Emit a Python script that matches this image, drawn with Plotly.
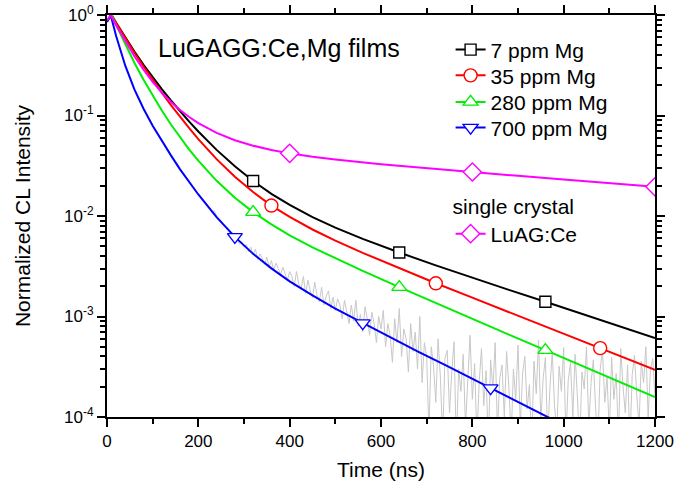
import plotly.graph_objects as go

# ---- cathodoluminescence decay data (time in ns, normalized intensity) ----
t_7 = [0, 10, 20, 40, 60, 80, 100, 120, 140, 160, 180, 200, 240, 280, 320, 360, 400, 450,
       500, 560, 640, 720, 800, 880, 960, 1040, 1120, 1200]
i_7 = [0.87, 1.0, 0.837, 0.596, 0.433, 0.320, 0.240, 0.183, 0.141, 0.110, 0.0869, 0.0693,
       0.0455, 0.0312, 0.0223, 0.0166, 0.0129, 0.00975, 0.00765, 0.00592, 0.00433, 0.00323,
       0.00242, 0.00184, 0.0014, 0.00106, 0.0008, 0.00061]

t_35 = [0, 10, 20, 40, 60, 80, 100, 120, 140, 160, 180, 200, 240, 280, 320, 360, 400, 450,
        500, 560, 640, 720, 800, 880, 960, 1040, 1080, 1120, 1200]
i_35 = [0.87, 1.0, 0.834, 0.588, 0.4215, 0.307, 0.226, 0.169, 0.127, 0.097, 0.0748, 0.0583,
        0.0368, 0.0246, 0.0173, 0.0127, 0.00978, 0.00734, 0.00568, 0.0043, 0.00302, 0.00214,
        0.00154, 0.00111, 0.000795, 0.00057, 0.000484, 0.00041, 0.000294]

t_280 = [0, 10, 20, 40, 60, 80, 100, 120, 140, 160, 180, 200, 240, 280, 320, 360, 400, 450,
         500, 560, 640, 720, 800, 880, 960, 1040, 1120, 1200]
i_280 = [0.87, 1.0, 0.792, 0.508, 0.335, 0.2267, 0.1574, 0.1119, 0.0814, 0.0604, 0.0458,
         0.0355, 0.0224, 0.0152, 0.01094, 0.00824, 0.00643, 0.00487, 0.00378, 0.00284,
         0.00196, 0.00136, 0.00095, 0.00066, 0.000463, 0.000324, 0.000226, 0.000158]

t_700 = [0, 8, 20, 40, 60, 80, 100, 120, 140, 160, 180, 200, 240, 280, 320, 360, 400, 450,
         500, 560, 620, 680, 740, 800, 840, 900, 960, 1000]
i_700 = [0.85, 1.0, 0.618, 0.313, 0.182, 0.1166, 0.0792, 0.0557, 0.0401, 0.0291, 0.0217,
         0.01637, 0.00974, 0.0062, 0.0042, 0.00301, 0.00224, 0.00162, 0.0012, 0.00086,
         0.00062, 0.00045, 0.00033, 0.00024, 0.000194, 0.000141, 0.000103, 0.000083]

t_luag = [0, 8, 20, 40, 60, 80, 100, 120, 140, 160, 180, 200, 240, 280, 320, 360, 400, 450,
          500, 600, 700, 800, 900, 1000, 1100, 1200]
i_luag = [0.88, 1.0, 0.790, 0.546, 0.388, 0.285, 0.216, 0.169, 0.1365, 0.1133, 0.0965, 0.084,
          0.0672, 0.0568, 0.0501, 0.0453, 0.042, 0.0389, 0.0365, 0.0328, 0.0299, 0.0274,
          0.0251, 0.0231, 0.0212, 0.0195]

# measured (unfitted) trace of the 700 ppm film, in units of 1e-4
t_raw = list(range(225, 1201, 5))
raw_e4 = [121, 108, 113, 99, 93, 90, 82, 77, 76, 66, 68, 60, 58, 53, 55, 49,
          52, 44, 49, 41, 47, 37, 42, 38, 33, 39, 31, 36, 29, 34, 30, 26, 31, 27, 23, 28,
          25, 20, 28, 21, 19, 25, 17, 23, 18, 15.5, 22, 16, 14, 19.5, 13, 16, 18, 12, 15.5, 11.5,
          15, 13, 9.5, 14.5, 11, 8.5, 13, 9, 14.5, 8, 10.5, 7, 12.5, 9.5, 6.5, 11, 8.5, 5.5, 10, 7.5,
          11.5, 5, 8.5, 6.5, 3.5, 9.5, 5.5, 12, 4, 7.5, 6, 2.8, 8.5, 4.5, 7, 3, 10, 2.2, 5.5, 4,
          0.7, 5, 3.2, 1.4, 6, 2.5, 0.6, 3.8, 4.6, 1.1, 2.8, 5.6, 0.5, 3, 1.8, 4.2, 0.8, 2.6, 6.5, 1.5,
          3.4, 0.6, 2.2, 4.8, 1.3, 2.9, 0.5, 3.7, 1.9, 5.5, 0.7, 2.4, 3.3, 1.0, 4.5, 2.0, 0.6, 3.0, 1.5, 5.2,
          0.8, 2.7, 4.0, 1.2, 2.1, 0.5, 3.6, 1.7, 5.8, 0.9, 2.4, 3.9, 0.6, 2.0, 4.4, 1.3, 0.7, 3.2, 1.8, 4.9,
          0.6, 2.3, 3.5, 1.0, 4.2, 1.6, 0.5, 2.8, 1.9, 5.0, 0.8, 2.2, 3.7, 1.2, 0.6, 3.0, 4.6, 1.4, 2.5, 0.7,
          3.9, 1.5, 2.7, 0.6, 4.8, 2.0, 1.1, 3.3, 0.5, 2.6, 4.1, 1.7, 0.8, 3.6, 2.2, 5.0, 1.0, 2.9, 3.8, 1.6]
raw = [v * 1e-4 for v in raw_e4]

# times at which symbols are placed on each curve
mark_7 = [320, 640, 960]
mark_35 = [360, 720, 1080]
mark_280 = [320, 640, 960]
mark_700 = [280, 560, 840]
mark_luag = [400, 800, 1200]

FONT = "Liberation Sans, Arial, sans-serif"

# name, data, symbol times, colour, symbol, size, legend id
series = [
    ("7 ppm Mg", t_7, i_7, mark_7, "#000000", "square", 11, "legend"),
    ("35 ppm Mg", t_35, i_35, mark_35, "#ff0000", "circle", 13, "legend2"),
    ("280 ppm Mg", t_280, i_280, mark_280, "#00ee00", "triangle-up", 13, "legend3"),
    ("700 ppm Mg", t_700, i_700, mark_700, "#0000ff", "triangle-down", 13, "legend4"),
    ("LuAG:Ce", t_luag, i_luag, mark_luag, "#ff00ff", "diamond", 14, "legend5"),
]

fig = go.Figure()

# noisy measured trace behind the fitted curves
fig.add_trace(go.Scatter(x=t_raw, y=raw, mode="lines", showlegend=False,
                         line=dict(color="#c8c8c8", width=1)))

for name, t, y, marks, color, sym, size, leg in series:
    fig.add_trace(go.Scatter(x=t, y=y, mode="lines", showlegend=False,
                             line=dict(color=color, width=2), legendgroup=name))
    lookup = dict(zip(t, y))
    fig.add_trace(go.Scatter(x=marks, y=[lookup[m] for m in marks], mode="markers",
                             showlegend=False, legendgroup=name,
                             marker=dict(symbol=sym, size=size, color="white",
                                         line=dict(color=color, width=1.4))))
    # legend key (line with symbol)
    fig.add_trace(go.Scatter(x=[None], y=[None], mode="lines+markers", name=name,
                             legend=leg, legendgroup=name,
                             line=dict(color=color, width=2),
                             marker=dict(symbol=sym, size=size, color="white",
                                         line=dict(color=color, width=1.4))))

fig.add_annotation(text="LuGAGG:Ce,Mg films", xref="paper", yref="paper",
                   x=0.089, y=0.918, xanchor="left", yanchor="middle", showarrow=False,
                   font=dict(size=25, color="black", family=FONT))

y_major = [1e-4, 1e-3, 1e-2, 1e-1, 1]
y_text = ["10<sup>-4</sup>", "10<sup>-3</sup>", "10<sup>-2</sup>", "10<sup>-1</sup>", "10<sup>0</sup>"]
y_minor = [k * d for d in [1e-4, 1e-3, 1e-2, 1e-1] for k in range(2, 10)]

axis_common = dict(showline=True, linecolor="black", linewidth=2, mirror="allticks",
                   ticks="outside", ticklen=8, tickwidth=2, tickcolor="black",
                   showgrid=False, zeroline=False, automargin=False,
                   tickfont=dict(size=17, color="black", family=FONT))

leg_common = dict(xanchor="left", yanchor="top", bgcolor="rgba(0,0,0,0)",
                  font=dict(size=21, family=FONT, color="black"), itemclick=False)
LEG_X = 0.627

fig.update_layout(
    width=692, height=485,
    margin=dict(l=107, r=37, t=15, b=68),
    paper_bgcolor="white", plot_bgcolor="white",
    font=dict(family=FONT, color="black"),
    xaxis=dict(range=[0, 1200], tickmode="array", tickvals=list(range(0, 1201, 200)),
               minor=dict(tickvals=list(range(100, 1200, 200)), ticks="outside",
                          ticklen=5, tickwidth=1.5, tickcolor="black"),
               title=dict(text="Time (ns)", font=dict(size=21), standoff=12),
               **axis_common),
    yaxis=dict(type="log", range=[-4, 0], tickmode="array", tickvals=y_major,
               ticktext=y_text,
               minor=dict(tickvals=y_minor, ticks="outside", ticklen=5, tickwidth=1.5,
                          tickcolor="black"),
               title=dict(text="Normalized CL Intensity", font=dict(size=21), standoff=28),
               **axis_common),
    legend=dict(x=LEG_X, y=0.964, **leg_common),
    legend2=dict(x=LEG_X, y=0.900, **leg_common),
    legend3=dict(x=LEG_X, y=0.834, **leg_common),
    legend4=dict(x=LEG_X, y=0.770, **leg_common),
    legend5=dict(x=LEG_X, y=0.574,
                 title=dict(text="single crystal", font=dict(size=21, family=FONT)),
                 **leg_common),
)

fig.write_html("out.html")
